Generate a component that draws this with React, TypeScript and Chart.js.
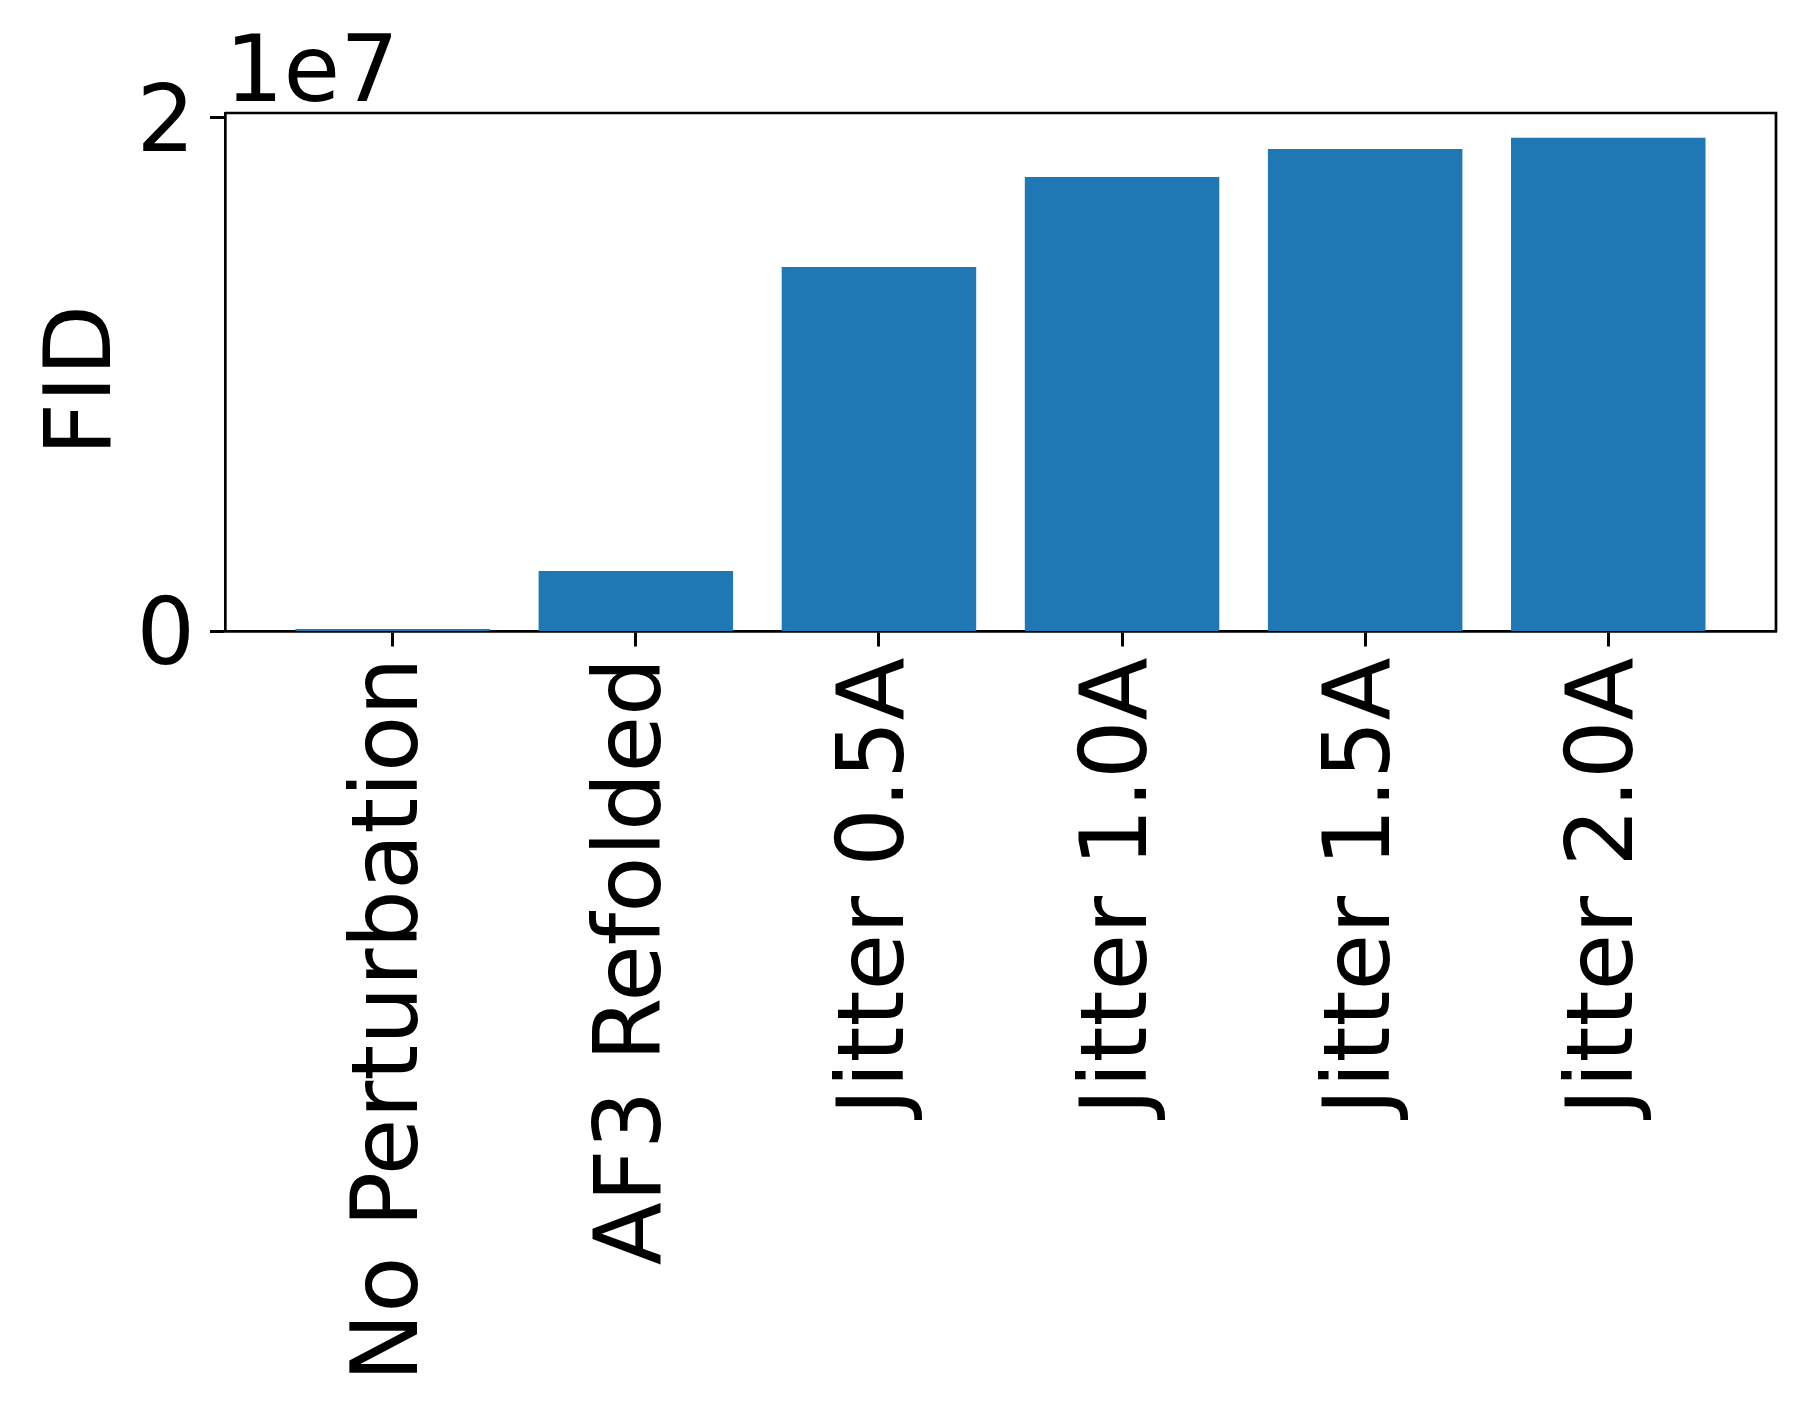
import React, { useEffect, useRef } from "react";
import { Chart, registerables } from "chart.js";

Chart.register(...registerables);

const categories: string[] = [
  "No Perturbation",
  "AF3 Refolded",
  "Jitter 0.5A",
  "Jitter 1.0A",
  "Jitter 1.5A",
  "Jitter 2.0A",
];
const fidValues: number[] = [100000, 2360000, 14190000, 17700000, 18790000, 19230000];
const yTickValues: number[] = [0, 20000000];
const yTickLabels: string[] = ["0", "2"];
const offsetText = "1e7";
const yAxisTitle = "FID";

const FONT = "'DejaVu Sans', sans-serif";
const FONT_SIZE = 92;
const W = 1806;
const H = 1413;

export default function App() {
  const ref = useRef<HTMLCanvasElement | null>(null);

  useEffect(() => {
    const canvas = ref.current;
    if (!canvas) return;
    const n = categories.length;
    const yMax = Math.max(...fidValues) * 1.05;
    const xPad = (n - 1 + 0.8) * 0.05 + 0.4;

    const framePlugin = {
      id: "frame",
      afterDraw(chart: any) {
        const { ctx, chartArea } = chart;
        ctx.save();
        ctx.strokeStyle = "#000";
        ctx.lineWidth = 2.7;
        ctx.beginPath();
        ctx.moveTo(chartArea.left, chartArea.top);
        ctx.lineTo(chartArea.right, chartArea.top);
        ctx.lineTo(chartArea.right, chartArea.bottom);
        ctx.stroke();
        ctx.fillStyle = "#000";
        ctx.font = `${FONT_SIZE}px ${FONT}`;
        ctx.textAlign = "left";
        ctx.textBaseline = "alphabetic";
        ctx.fillText(offsetText, chartArea.left, chartArea.top - 12);
        // y-axis title
        const cy = (chartArea.top + chartArea.bottom) / 2 + 8;
        ctx.translate(86, cy);
        ctx.rotate(-Math.PI / 2);
        ctx.textAlign = "center";
        ctx.textBaseline = "middle";
        ctx.fillText(yAxisTitle, 0, 0);
        ctx.restore();
      },
    };

    const chart = new Chart(canvas, {
      type: "bar",
      data: {
        datasets: [
          {
            data: fidValues.map((v, i) => ({ x: i, y: v })),
            backgroundColor: "#1f77b4",
            borderWidth: 0,
            barPercentage: 0.8,
            categoryPercentage: 1,
          },
        ],
      },
      options: {
        animation: false,
        responsive: false,
        maintainAspectRatio: false,
        devicePixelRatio: 1,
        layout: { padding: { left: 0, top: 113, right: 30, bottom: 0 } },
        plugins: {
          legend: { display: false },
          tooltip: { enabled: false },
        },
        scales: {
          x: {
            type: "linear",
            min: -xPad,
            max: n - 1 + xPad,
            offset: false,
            afterBuildTicks: (axis: any) => {
              axis.ticks = categories.map((_, i) => ({ value: i }));
            },
            afterFit: (axis: any) => {
              axis.height = H - 631.5;
            },
            grid: {
              display: true,
              offset: false,
              drawOnChartArea: false,
              drawTicks: true,
              tickLength: 15,
              tickWidth: 3,
              tickColor: "#000",
            },
            border: { display: true, color: "#000", width: 2.7 },
            ticks: {
              autoSkip: false,
              minRotation: 90,
              maxRotation: 90,
              padding: 11,
              color: "#000",
              font: { family: FONT, size: FONT_SIZE },
              callback: (v: any) => categories[Number(v)] ?? "",
            },
          },
          y: {
            type: "linear",
            min: 0,
            max: yMax,
            afterBuildTicks: (axis: any) => {
              axis.ticks = yTickValues.map((v) => ({ value: v }));
            },
            afterFit: (axis: any) => {
              axis.width = 225;
            },
            grid: {
              display: true,
              drawOnChartArea: false,
              drawTicks: true,
              tickLength: 15,
              tickWidth: 3,
              tickColor: "#000",
            },
            border: { display: true, color: "#000", width: 2.7 },
            ticks: {
              padding: 15,
              labelOffset: 9,
              color: "#000",
              font: { family: FONT, size: FONT_SIZE },
              callback: (v: any) => {
                const idx = yTickValues.indexOf(Number(v));
                return idx >= 0 ? yTickLabels[idx] : "";
              },
            },
            title: { display: false },
          },
        },
      },
      plugins: [framePlugin],
    });

    return () => chart.destroy();
  }, []);

  return (
    <div style={{ position: "fixed", left: 0, top: 0, width: W, height: H, background: "#fff" }}>
      <canvas ref={ref} width={W} height={H} style={{ width: W, height: H, display: "block" }} />
    </div>
  );
}
